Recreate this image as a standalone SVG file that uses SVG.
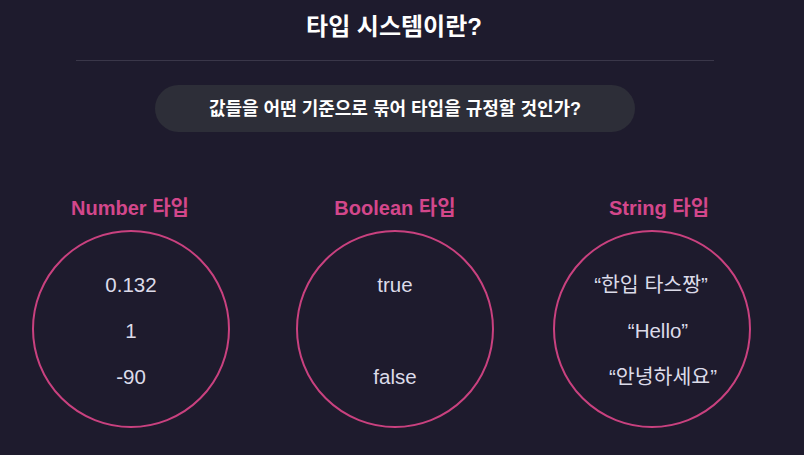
<svg xmlns="http://www.w3.org/2000/svg" width="804" height="455" viewBox="0 0 804 455">
  <style>
    text { font-family: "Liberation Sans", "Noto Sans CJK KR", sans-serif; text-anchor: middle; }
    .title { font-size: 24px; font-weight: 700; fill: #ffffff; }
    .q { font-size: 18px; font-weight: 700; fill: #ffffff; }
    .label { font-size: 20px; font-weight: 700; fill: #d3478b; }
    .val { font-size: 20.5px; fill: #dcdbe9; }
    .ring { fill: none; stroke: #c9417f; stroke-width: 2; }
  </style>
  <rect x="0" y="0" width="804" height="455" fill="#1e1b2d"/>
  <g id="header">
    <text class="title" x="394" y="35">타입 시스템이란?</text>
    <line x1="76" y1="60.5" x2="714" y2="60.5" stroke="#3a3749" stroke-width="1"/>
  </g>
  <g id="question">
    <rect x="155" y="85" width="480" height="47" rx="23.5" fill="#2d2e38"/>
    <text class="q" x="395" y="114.5">값들을 어떤 기준으로 묶어 타입을 규정할 것인가?</text>
  </g>
  <g id="number-type">
    <text class="label" x="130" y="215">Number 타입</text>
    <circle class="ring" cx="131" cy="329" r="98"/>
    <text class="val" x="131" y="291.5">0.132</text>
    <text class="val" x="131" y="337.5">1</text>
    <text class="val" x="131" y="383.5">-90</text>
  </g>
  <g id="boolean-type">
    <text class="label" x="395" y="215">Boolean 타입</text>
    <circle class="ring" cx="395" cy="329" r="98"/>
    <text class="val" x="395" y="291.5">true</text>
    <text class="val" x="395" y="383.5">false</text>
  </g>
  <g id="string-type">
    <text class="label" x="659" y="215">String 타입</text>
    <circle class="ring" cx="652" cy="329" r="98"/>
    <text class="val" x="651" y="291.5">“한입 타스짱”</text>
    <text class="val" x="658" y="337.5">“Hello”</text>
    <text class="val" x="663" y="383.5">“안녕하세요”</text>
  </g>
  <g id="connectors"/>
</svg>
